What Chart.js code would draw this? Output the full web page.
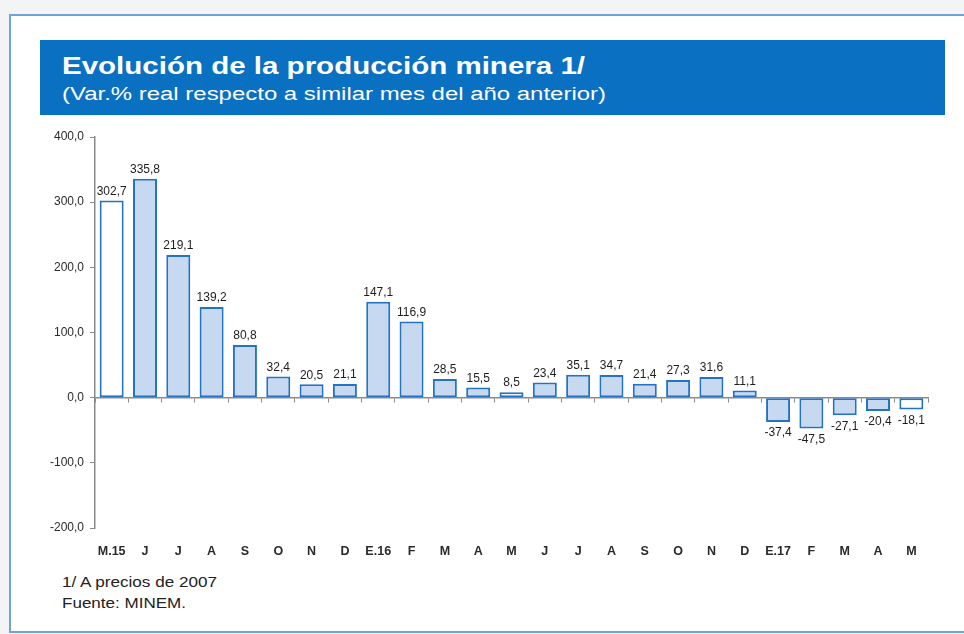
<!DOCTYPE html>
<html>
<head>
<meta charset="utf-8">
<script src="https://cdn.jsdelivr.net/npm/chart.js@4.4.1/dist/chart.umd.min.js"></script>
<style>
  html, body { margin: 0; padding: 0; }
  body { width: 964px; height: 634px; background: #f3f4f6; position: relative; overflow: hidden; font-family: "Liberation Sans", Arial, sans-serif; }
  #frame { position: absolute; left: 9px; top: 14px; width: 970px; height: 615px; background: #ffffff; border: 2px solid #6fa3dc; }
  #banner { position: absolute; left: 40px; top: 40px; width: 905px; height: 75px; background: #0a70c2; }
  .txt { position: absolute; white-space: nowrap; line-height: 1; transform-origin: 0 0; display: inline-block; }
  #title { left: 62px; top: 54px; font-size: 24px; font-weight: bold; color: #ffffff; }
  #subtitle { left: 62px; top: 85px; font-size: 18px; color: #ffffff; }
  #note1 { left: 62px; top: 575px; font-size: 14px; color: #222; }
  #note2 { left: 62px; top: 596px; font-size: 14px; color: #222; }
  #wrap { position: absolute; left: 0; top: 0; width: 964px; height: 634px; }
</style>
</head>
<body>
<div id="frame"></div>
<div id="banner"></div>
<div class="txt" id="title" data-w="523">Evolución de la producción minera 1/</div>
<div class="txt" id="subtitle" data-w="544">(Var.% real respecto a similar mes del año anterior)</div>
<div class="txt" id="note1" data-w="155">1/ A precios de 2007</div>
<div class="txt" id="note2" data-w="124">Fuente: MINEM.</div>
<div id="wrap"><canvas id="c" width="964" height="634"></canvas></div>
<script>
// ---- Data ----
const categories = ["M.15","J","J","A","S","O","N","D","E.16","F","M","A","M","J","J","A","S","O","N","D","E.17","F","M","A","M"];
const variacion = [302.7, 335.8, 219.1, 139.2, 80.8, 32.4, 20.5, 21.1, 147.1, 116.9, 28.5, 15.5, 8.5, 23.4, 35.1, 34.7, 21.4, 27.3, 31.6, 11.1, -37.4, -47.5, -27.1, -20.4, -18.1];
const whiteBarIndex = [0, 12, 24]; // May months drawn with white fill
const yTicks = [-200, -100, 0, 100, 200, 300, 400];

// fit HTML text widths
document.querySelectorAll('.txt').forEach(el => {
  const w = el.getBoundingClientRect().width;
  const t = parseFloat(el.dataset.w);
  el.style.transform = 'scaleX(' + (t / w) + ')';
});

const fmt = v => v.toFixed(1).replace('.', ',');

const fillColors = variacion.map((v, i) => whiteBarIndex.includes(i) ? '#ffffff' : '#c6d9f1');

const labelPlugin = {
  id: 'barLabels',
  afterDatasetsDraw(chart) {
    const ctx = chart.ctx;
    const meta = chart.getDatasetMeta(0);
    ctx.save();
    ctx.font = '12px "Liberation Sans", Arial, sans-serif';
    ctx.fillStyle = '#1e1e1e';
    ctx.textAlign = 'center';
    meta.data.forEach((el, i) => {
      const v = chart.data.datasets[0].data[i];
      if (v >= 0) {
        ctx.textBaseline = 'bottom';
        ctx.fillText(fmt(v), el.x, el.y - 3);
      } else {
        ctx.textBaseline = 'top';
        ctx.fillText(fmt(v), el.x, el.y + 5);
      }
    });
    ctx.restore();
  }
};

new Chart(document.getElementById('c'), {
  type: 'bar',
  data: {
    labels: categories,
    datasets: [{
      data: variacion,
      backgroundColor: fillColors,
      borderColor: '#2272c6',
      borderWidth: 2,
      borderSkipped: false,
      barPercentage: 0.72,
      categoryPercentage: 1.0,
      xAxisID: 'x'
    }]
  },
  options: {
    responsive: false,
    animation: false,
    devicePixelRatio: 1,
    layout: { padding: { left: 40, right: 36, top: 137, bottom: 76 } },
    plugins: { legend: { display: false }, tooltip: { enabled: false }, title: { display: false } },
    scales: {
      x: {
        type: 'category',
        offset: true,
        grid: { display: false, offset: true },
        border: { display: false },
        ticks: {
          color: '#2a2a2a',
          font: { family: '"Liberation Sans", Arial, sans-serif', size: 12.5, weight: 'bold' },
          padding: 8,
          maxRotation: 0,
          autoSkip: false
        },
        afterFit(s) { s.height = 30; }
      },
      x2: {
        type: 'category',
        labels: categories,
        position: { y: 0 },
        offset: true,
        grid: { display: true, offset: true, drawOnChartArea: false, drawTicks: true, tickLength: 4, color: '#8a8a8a', lineWidth: 1 },
        border: { display: true, color: '#8a8a8a', width: 1.5 },
        ticks: { display: false }
      },
      y: {
        type: 'linear',
        min: -200,
        max: 400,
        afterBuildTicks(s) { s.ticks = yTicks.map(v => ({ value: v })); },
        grid: { display: true, drawOnChartArea: false, drawTicks: true, tickLength: 5, color: '#8a8a8a' },
        border: { display: true, color: '#8a8a8a', width: 1.5 },
        ticks: {
          color: '#2a2a2a',
          font: { family: '"Liberation Sans", Arial, sans-serif', size: 12 },
          padding: 6,
          callback: v => fmt(v)
        },
        afterFit(s) { s.width = 55; }
      }
    }
  },
  plugins: [labelPlugin]
});
</script>
</body>
</html>
